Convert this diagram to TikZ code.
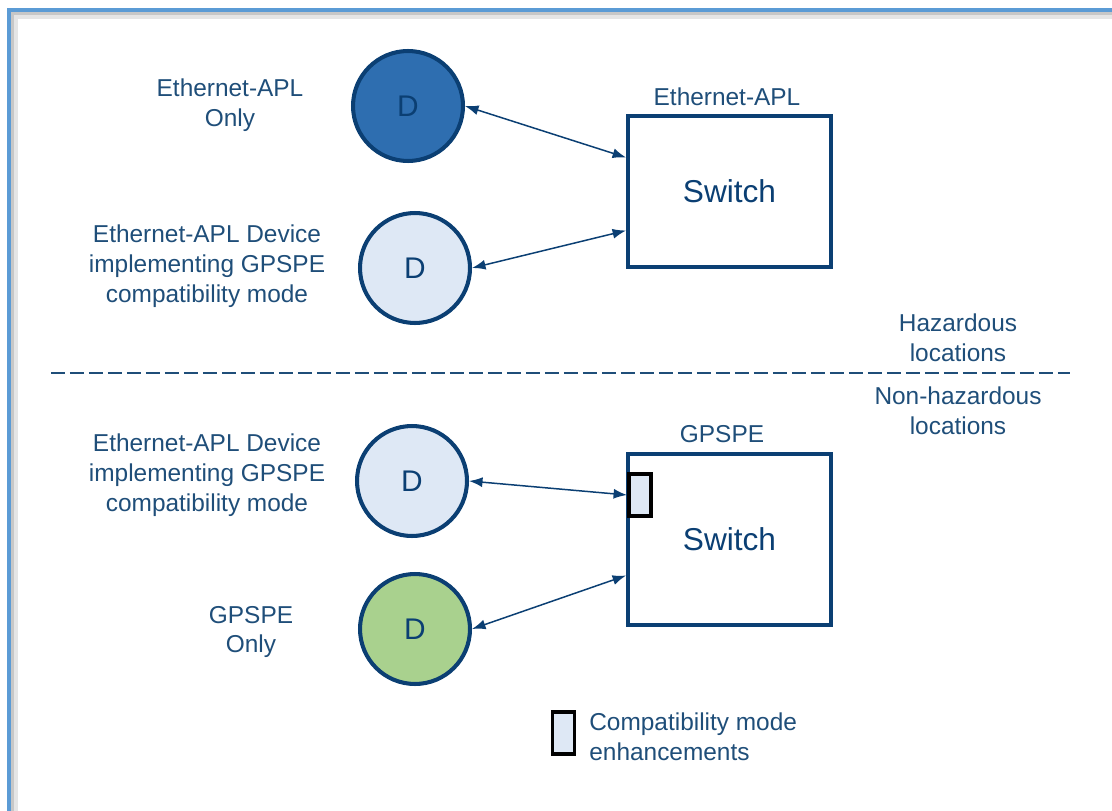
\documentclass[tikz,border=0pt]{standalone}
\usepackage{fontspec}
\setmainfont{Liberation Sans}
\usetikzlibrary{arrows.meta}
\definecolor{aplnavy}{HTML}{0B3F73}
\definecolor{apltext}{HTML}{1F4E79}
\definecolor{apldark}{HTML}{2E6EB0}
\definecolor{apllight}{HTML}{DEE8F5}
\definecolor{gpsgreen}{HTML}{A9D18E}
\definecolor{frameblue}{HTML}{5B9BD5}

\begin{document}
\begin{tikzpicture}[
    x=0.02cm, y=-0.02cm,
    device/.style={circle, draw=aplnavy, line width=2.3pt, inner sep=0pt, minimum size=2.2cm, text=aplnavy, font=\fontsize{17}{20}\selectfont},
    switchbox/.style={rectangle, draw=aplnavy, line width=2.2pt, inner sep=0pt, minimum width=4.06cm, text=aplnavy, font=\fontsize{18}{22}\selectfont},
    desc/.style={text=apltext, align=center, inner sep=0pt, font=\fontsize{13.9}{17}\selectfont},
    compat/.style={rectangle, draw=black, line width=2.2pt, fill=apllight, inner sep=0pt, minimum width=0.44cm, minimum height=0.84cm},
    arrow/.style={{Latex[length=0.27cm,width=0.2cm]}-{Latex[length=0.27cm,width=0.2cm]}, draw=aplnavy, line width=0.85pt}
]
    \useasboundingbox (0,0) rectangle (1112,811);
    % frame
    \draw[black!10, line width=3pt] (15,830) -- (15,16) -- (1130,16);
    \draw[black!22, line width=1.8pt] (12.5,830) -- (12.5,13.5) -- (1130,13.5);
    \draw[frameblue, line width=2.3pt] (9,830) -- (9,10) -- (1130,10);

    % hazardous area
    \node[device, fill=apldark] (aplonly) at (408,106) {D};
    \node[device, fill=apllight] (aplcompa) at (415,268) {D};
    \node[switchbox, minimum height=3.02cm] (aplsw) at (729.5,191.5) {Switch};
    \node[desc] (aplonlytxt) at (230,105) {Ethernet-APL\\Only};
    \node[desc] (aplcompatxt) at (207,266) {Ethernet-APL Device\\implementing GPSPE\\compatibility mode};
    \node[desc] (aplswtxt) at (727,97) {Ethernet-APL};

    \draw[arrow] (aplonly.east) -- ([yshift=0.68cm]aplsw.west);
    \draw[arrow] (aplcompa.east) -- ([yshift=-0.78cm]aplsw.west);

    % border between areas
    \draw[apltext, line width=1.1pt, dash pattern=on 0.28cm off 0.1cm] (51,373) -- (1070,373);
    \node[desc] (haz) at (958,338) {Hazardous\\locations};
    \node[desc] (nonhaz) at (958,411) {Non-hazardous\\locations};

    % non-hazardous area
    \node[device, fill=apllight] (gpscompa) at (412,481) {D};
    \node[device, fill=gpsgreen] (gpsonly) at (415,629) {D};
    \node[switchbox, minimum height=3.42cm] (gpssw) at (729.5,539.5) {Switch};
    \node[compat] (swcompat) at (640,495) {};
    \node[desc] (gpscompatxt) at (207,475) {Ethernet-APL Device\\implementing GPSPE\\compatibility mode};
    \node[desc] (gpsonlytxt) at (251,632) {GPSPE\\Only};
    \node[desc] (gpsswtxt) at (722,434) {GPSPE};

    \draw[arrow] (gpscompa.east) -- (swcompat.west);
    \draw[arrow] (gpsonly.east) -- ([yshift=-0.72cm]gpssw.west);

    % legend
    \node[compat] (legbox) at (563.5,733) {};
    \node[desc, align=left, anchor=west] (legtxt) at (589,737) {Compatibility mode\\enhancements};
\end{tikzpicture}
\end{document}
